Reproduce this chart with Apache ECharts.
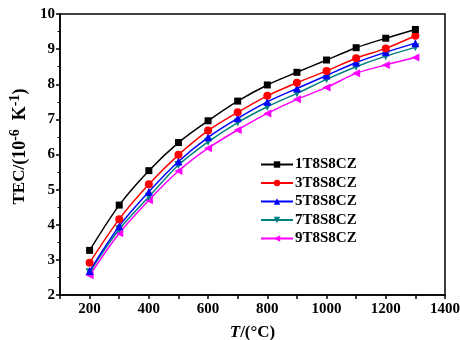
<!DOCTYPE html>
<html><head><meta charset="utf-8">
<script src="https://cdn.jsdelivr.net/npm/echarts@6/dist/echarts.min.js"></script>
<style>html,body{margin:0;padding:0;background:#fff}#c{width:460px;height:340px}</style>
</head><body><div id="c"></div>
<script>
const temps = [200,300,400,500,600,700,800,900,1000,1100,1200,1300];
const s1 = [3.27,4.56,5.54,6.34,6.96,7.52,7.98,8.34,8.69,9.04,9.31,9.56];
const s3 = [2.92,4.16,5.15,5.99,6.68,7.20,7.67,8.04,8.38,8.74,9.02,9.38];
const s5 = [2.68,3.96,4.94,5.80,6.49,7.03,7.50,7.88,8.25,8.62,8.91,9.17];
const s7 = [2.65,3.87,4.80,5.70,6.36,6.91,7.36,7.74,8.14,8.50,8.80,9.05];
const s9 = [2.56,3.76,4.70,5.53,6.18,6.70,7.17,7.57,7.91,8.31,8.55,8.76];
const names = ['1T8S8CZ','3T8S8CZ','5T8S8CZ','7T8S8CZ','9T8S8CZ'];
const colors = ['#000000','#ff0000','#0000ff','#008080','#ff00ff'];
const symbols = ['rect','circle','triangle','triangle','triangle'];
const rotates = [0,0,0,180,90];
const sizes = [7,8,8,8,8];
const all = [s1,s3,s5,s7,s9];
const font = 'Liberation Serif';
const chart = echarts.init(document.getElementById('c'));
chart.setOption({
  animation:false,
  grid:{left:60,right:15,top:14,bottom:45,show:true,borderColor:'#000',borderWidth:1.5,backgroundColor:'transparent',outerBoundsMode:'none',containLabel:false},
  legend:{orient:'vertical',left:255,top:152,itemGap:3.5,itemWidth:32,itemHeight:8,
    textStyle:{fontFamily:font,fontWeight:'bold',fontSize:15,color:'#000',padding:[0,0,0,-3]},
    data:names},
  xAxis:{type:'value',min:100,max:1400,interval:100,
    name:'{i|T}/(°C)',nameLocation:'middle',nameGap:29,
    nameTextStyle:{fontFamily:font,fontWeight:'bold',fontSize:17,color:'#000',rich:{i:{fontFamily:font,fontStyle:'italic',fontWeight:'bold',fontSize:17,color:'#000'}}},
    axisLine:{lineStyle:{color:'#000',width:1.5}},
    axisTick:{show:true,inside:false,length:4,lineStyle:{color:'#000',width:1.5}},
    axisLabel:{fontFamily:font,fontWeight:'bold',fontSize:15,color:'#000',margin:7,
      formatter:v=> (v%200===0 ? String(v) : '')},
    splitLine:{show:false}},
  yAxis:{type:'value',min:2,max:10,interval:1,
    name:'{t|TEC/}{b|(10}{sup|-6}{b|  K}{sup|-1}{b|)}',nameLocation:'middle',nameGap:16,
    nameTextStyle:{fontFamily:font,fontWeight:'bold',fontSize:17,color:'#000',padding:[0,0,0,16],
      rich:{
        t:{fontFamily:font,fontWeight:'bold',fontSize:17,color:'#000'},
        b:{fontFamily:font,fontWeight:'bold',fontSize:18,color:'#000'},
        sup:{fontFamily:font,fontWeight:'bold',fontSize:14,color:'#000',verticalAlign:'top',padding:[0,0,10,0]}}},
    axisLine:{lineStyle:{color:'#000',width:1.5}},
    axisTick:{show:true,inside:false,length:4,lineStyle:{color:'#000',width:1.5}},
    minorTick:{show:true,splitNumber:2,length:2.5,lineStyle:{color:'#000',width:1}},
    axisLabel:{fontFamily:font,fontWeight:'bold',fontSize:15,color:'#000',margin:5},
    splitLine:{show:false}},
  series: all.map((arr,i)=>({
    name:names[i],type:'line',smooth:0.3,
    data: temps.map((t,j)=>[t,arr[j]]),
    symbol:symbols[i],symbolSize:sizes[i],symbolRotate:rotates[i],
    itemStyle:{color:colors[i]},lineStyle:{color:colors[i],width:1.5},z:10-i
  }))
});
</script></body></html>
